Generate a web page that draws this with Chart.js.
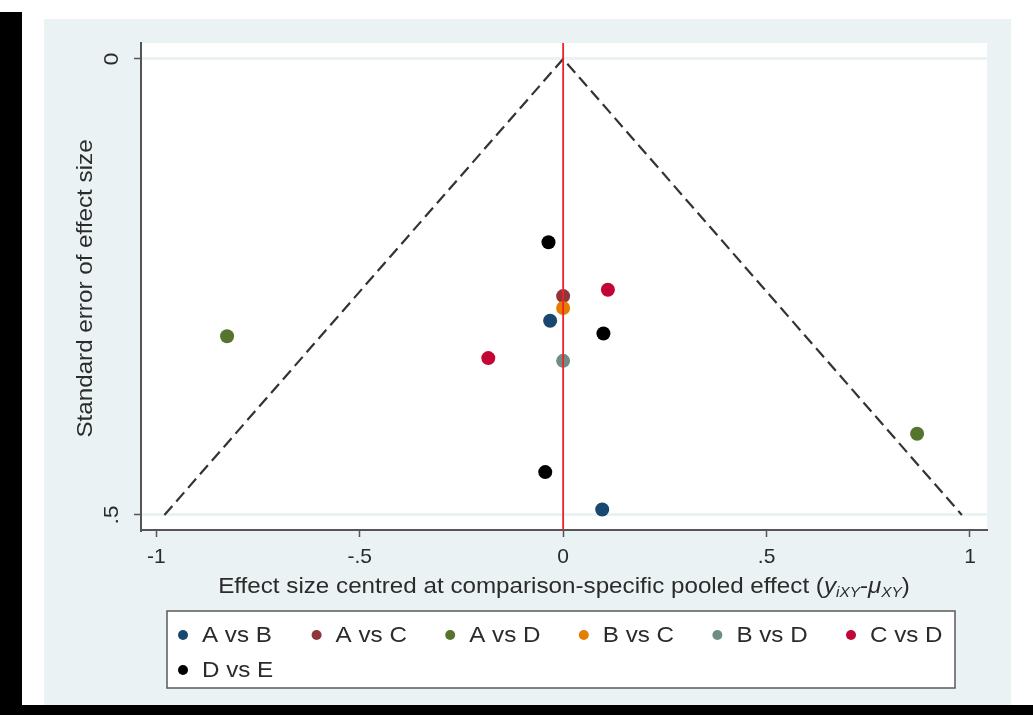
<!DOCTYPE html>
<html>
<head>
<meta charset="utf-8">
<script src="https://cdn.jsdelivr.net/npm/chart.js@4.4.1/dist/chart.umd.min.js"></script>
<style>
  html, body { margin: 0; padding: 0; background: #fff; width: 1033px; height: 715px; overflow: hidden; position: relative; }
  #edge  { position: absolute; left: 0; top: 12px; width: 22px; height: 703px; background: #000; }
  #foot  { position: absolute; left: 0; top: 705px; width: 1033px; height: 10px; background: #000; }
  #panel { position: absolute; left: 44px; top: 19px; width: 967px; height: 686px; background: #eaf2f3; }
  #panel canvas { position: absolute; left: 0; top: 0; }
</style>
</head>
<body>
<div id="edge"></div>
<div id="panel"><canvas id="funnel" width="967" height="686"></canvas></div>
<div id="foot"></div>
<script>
// comparisons, one colour each (Stata s2color order)
const SERIES = ["A vs B", "A vs C", "A vs D", "B vs C", "B vs D", "C vs D", "D vs E"];
const SERIES_COLORS = ["#1a476f", "#90353b", "#55752f", "#e37e00", "#6e8e84", "#c10534", "#000000"];

// centred effect size (x) and its standard error (y), per comparison
const EFFECT  = [[-0.032, 0.096], [0.0], [-0.826, 0.870], [0.0], [0.0], [0.110, -0.184], [-0.036, 0.099, -0.044]];
const STD_ERR = [[0.287, 0.494], [0.260], [0.304, 0.411], [0.273], [0.331], [0.253, 0.328], [0.201, 0.301, 0.453]];

// pseudo 95% confidence funnel and the null line
const FUNNEL_X  = [-0.98, 0, 0.98];
const FUNNEL_SE = [0.5, 0, 0.5];
const NULL_X  = [0, 0];
const NULL_SE = [-0.0175, 0.5165];

const X_TICKS = [-1, -0.5, 0, 0.5, 1];
const X_TICK_LABELS = ["-1", "-.5", "0", ".5", "1"];
const Y_TICKS = [0, 0.5];
const Y_TICK_LABELS = ["0", ".5"];
const Y_TITLE = "Standard error of effect size";

const FONT = "'Liberation Sans', Arial, sans-serif";
const TEXT = "#2b2b2b";
const AXIS = "#555";
const STRETCH = 1.1;   // Stata's text comes out a little wider than Arial

const pts = (xs, ys) => xs.map((x, i) => ({ x: x, y: ys[i] }));

const datasets = [
  {
    type: "line", data: pts(FUNNEL_X, FUNNEL_SE),
    borderColor: "#333", borderWidth: 2.2, borderDash: [12, 6],
    pointRadius: 0, fill: false, order: 20,
  },
  {
    type: "line", data: pts(NULL_X, NULL_SE),
    borderColor: "#f0202a", borderWidth: 1.8,
    pointRadius: 0, fill: false, order: 0,
  },
];
SERIES.forEach((name, i) => {
  datasets.push({
    label: name,
    data: pts(EFFECT[i], STD_ERR[i]),
    backgroundColor: SERIES_COLORS[i],
    borderWidth: 0,
    pointRadius: 7,
    order: 10 - i,
  });
});

// draw a string with a horizontal stretch, anchored at (x, y) per align
function wideText(ctx, str, x, y, align) {
  const w = ctx.measureText(str).width * STRETCH;
  const x0 = align === "center" ? x - w / 2 : x;
  ctx.save();
  ctx.translate(x0, y);
  ctx.scale(STRETCH, 1);
  ctx.textAlign = "left";
  ctx.fillText(str, 0, 0);
  ctx.restore();
  return w;
}

const stataFrame = {
  id: "stataFrame",
  beforeDraw(chart) {
    const { ctx, chartArea: a } = chart;
    ctx.save();
    ctx.fillStyle = "#fff";
    ctx.fillRect(a.left, a.top, a.right - a.left, a.bottom - a.top);
    ctx.restore();
  },
  afterDraw(chart) {
    const { ctx, chartArea: a } = chart;
    const y = chart.scales.y;
    ctx.save();
    ctx.fillStyle = TEXT;
    ctx.textBaseline = "middle";

    // rotated y tick labels and y title, as Stata draws them
    ctx.font = "21px " + FONT;
    Y_TICKS.forEach((v, i) => {
      ctx.save();
      ctx.translate(a.left - 29, y.getPixelForValue(v));
      ctx.rotate(-Math.PI / 2);
      wideText(ctx, Y_TICK_LABELS[i], 0, 0, "center");
      ctx.restore();
    });
    ctx.font = "22px " + FONT;
    ctx.save();
    ctx.translate(a.left - 55, (a.top + a.bottom) / 2 + 2);
    ctx.rotate(-Math.PI / 2);
    wideText(ctx, Y_TITLE, 0, 0, "center");
    ctx.restore();

    // x axis title with subscripts
    const parts = [
      ["Effect size centred at comparison-specific pooled effect (", "22px", 0],
      ["y", "italic 22px", 0],
      ["iXY", "italic 14px", 4],
      ["-", "22px", 0],
      ["\u03bc", "italic 22px", 0],
      ["XY", "italic 14px", 4],
      [")", "22px", 0],
    ];
    let total = 0;
    parts.forEach(p => {
      ctx.font = p[1] + " " + FONT;
      p.push(ctx.measureText(p[0]).width * STRETCH);
      total += p[3];
    });
    let tx = (a.left + a.right) / 2 - total / 2;
    ctx.textBaseline = "alphabetic";
    parts.forEach(p => {
      ctx.font = p[1] + " " + FONT;
      wideText(ctx, p[0], tx, a.bottom + 63 + p[2], "left");
      tx += p[3];
    });

    // legend box
    const bx = a.left + 26, by = a.bottom + 81, bw = 788, bh = 77;
    ctx.fillStyle = "#fff";
    ctx.fillRect(bx, by, bw, bh);
    ctx.strokeStyle = "#5a5a5a";
    ctx.lineWidth = 1.5;
    ctx.strokeRect(bx, by, bw, bh);
    ctx.font = "22px " + FONT;
    ctx.textBaseline = "middle";
    SERIES.forEach((name, i) => {
      const col = i % 6, row = Math.floor(i / 6);
      const mx = bx + 16 + col * 133.6, my = by + 24 + row * 35;
      ctx.fillStyle = SERIES_COLORS[i];
      ctx.beginPath();
      ctx.arc(mx, my, 5, 0, Math.PI * 2);
      ctx.fill();
      ctx.fillStyle = TEXT;
      wideText(ctx, name, mx + 19, my + 1, "left");
    });
    ctx.restore();
  },
};

new Chart(document.getElementById("funnel"), {
  type: "scatter",
  data: { datasets: datasets },
  options: {
    responsive: false,
    animation: false,
    layout: { padding: { left: 0, top: 24, right: 24, bottom: 0 } },
    plugins: { legend: { display: false }, tooltip: { enabled: false } },
    scales: {
      x: {
        type: "linear", min: -1.0376, max: 1.0418,
        afterBuildTicks: s => { s.ticks = X_TICKS.map(v => ({ value: v })); },
        afterFit: s => { s.height = 175; },
        ticks: {
          callback: v => X_TICK_LABELS[X_TICKS.indexOf(v)],
          font: { family: FONT, size: 21 }, color: TEXT,
          padding: 8, maxRotation: 0, autoSkip: false,
        },
        grid: { drawOnChartArea: false, drawTicks: true, tickLength: 7, tickColor: AXIS, tickWidth: 1.5 },
        border: { color: AXIS, width: 2 },
      },
      y: {
        type: "linear", reverse: true, min: NULL_SE[0], max: NULL_SE[1],
        afterBuildTicks: s => { s.ticks = Y_TICKS.map(v => ({ value: v })); },
        afterFit: s => { s.width = 97; },
        ticks: { display: false },
        grid: { color: "#eaf2f3", lineWidth: 3, drawTicks: true, tickLength: 7, tickColor: AXIS, tickWidth: 1.5 },
        border: { color: AXIS, width: 2 },
      },
    },
  },
  plugins: [stataFrame],
});
</script>
</body>
</html>
